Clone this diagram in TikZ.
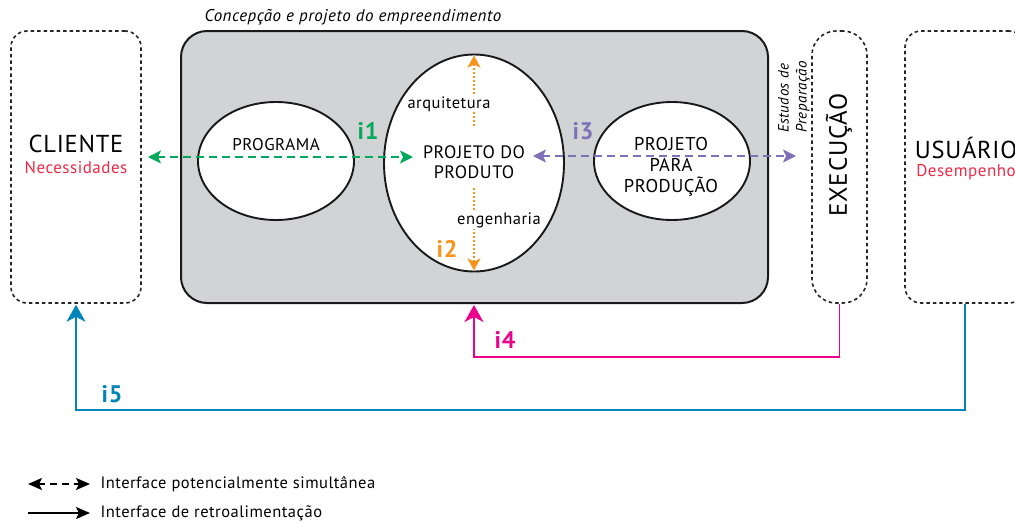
\documentclass[tikz,border=0pt]{standalone}
\usepackage{fontspec}
\setmainfont{PT Sans}[LetterSpace=3]
\usetikzlibrary{arrows.meta,shapes.geometric,positioning}
\definecolor{caixa}{HTML}{D1D3D4}
\definecolor{vermelho}{HTML}{EE2A47}
\definecolor{verde}{HTML}{00A95C}
\definecolor{laranja}{HTML}{F7941D}
\definecolor{roxo}{HTML}{7F71B7}
\definecolor{magenta}{HTML}{EC008C}
\definecolor{azul}{HTML}{0085B8}
\tikzset{
  pontilhada/.style={draw=black!85, line width=1.6pt, dash pattern=on 3.5pt off 3pt, rounded corners=16pt, minimum height=272pt, inner sep=0pt},
  oval/.style={ellipse, draw=black!90, fill=white, line width=1.9pt, inner sep=0pt},
  simult/.style={line width=1.8pt, dash pattern=on 8pt off 5pt, {Stealth[length=13pt,width=13pt,inset=3pt]}-{Stealth[length=13pt,width=13pt,inset=3pt]}},
  retro/.style={line width=1.8pt, -{Stealth[length=17pt,width=19pt,inset=5pt]}},
  rotulo/.style={font=\bfseries\fontsize{24}{26}\selectfont},
  grande/.style={font=\fontsize{24.5}{26}\selectfont},
  texto/.style={font=\fontsize{16.5}{20}\selectfont, align=center}
}
\begin{document}
\begin{tikzpicture}[x=1pt, y=-1pt]
  \useasboundingbox (0,0) rectangle (1015,522);

  \node[pontilhada, minimum width=130pt] (cliente) at (76,167) {};
  \node[grande] (clientetxt) at (76,144) {CLIENTE};
  \node[texto, font=\fontsize{17}{20}\selectfont, text=vermelho] (necess) at (76,168) {Necessidades};

  \node[fill=caixa, draw=black!90, line width=2pt, rounded corners=26pt, minimum width=587pt, minimum height=272pt] (empreend) at (474.5,167) {};
  \node[font=\itshape\fontsize{17}{19}\selectfont] (titulo) at (353,17) {Concepção e projeto do empreendimento};

  \node[oval, minimum width=156pt, minimum height=118pt] (programa) at (276,161) {};
  \node[texto, font=\fontsize{17}{20}\selectfont] at (276,145) {PROGRAMA};
  \node[oval, minimum width=180pt, minimum height=217pt] (produto) at (474,163) {};
  \node[oval, minimum width=156pt, minimum height=118pt] (producao) at (672,161) {};
  \node[texto, font=\fontsize{18.5}{21}\selectfont] at (671,167) {PROJETO\\PARA\\PRODUÇÃO};

  \node[pontilhada, minimum width=55pt, rounded corners=24pt] (execucao) at (839.5,167) {};
  \node[grande, font=\fontsize{25}{27}\selectfont, rotate=90] at (839,155) {EXECUÇÃO};
  \node[font=\itshape\fontsize{15}{18}\selectfont, rotate=90, align=left] (estudos) at (794,97) {Estudos de\\Preparação};

  \node[pontilhada, minimum width=120pt] (usuario) at (965,167) {};
  \node[grande] at (966,148) {USUÁRIO};
  \node[texto, font=\fontsize{17}{20}\selectfont, text=vermelho] at (966,172) {Desempenho};

  \coordinate (a1) at (148,157);
  \coordinate (b1) at (413,157);
  \draw[simult, verde] (a1) -- (b1);
  \node[rotulo, text=verde] at (368,131) {i1};

  \coordinate (a3) at (533,156);
  \coordinate (b3) at (796,156);
  \draw[simult, roxo] (a3) -- (b3);
  \node[rotulo, text=roxo] at (583,131) {i3};

  \draw[laranja, line width=1.8pt, dash pattern=on 2pt off 2pt, -{Stealth[length=12pt,width=13pt,inset=3pt]}] (474,126) -- ([yshift=-2pt]produto.north);
  \draw[laranja, line width=1.8pt, dash pattern=on 2pt off 2pt, -{Stealth[length=12pt,width=13pt,inset=3pt]}] (474,188) -- ([yshift=2pt]produto.south);
  \node[texto, fill=white, inner sep=1pt] at (449,104) {arquitetura};
  \node[texto, fill=white, inner sep=1pt] at (499,220) {engenharia};
  \node[texto, font=\fontsize{18}{20}\selectfont] at (474,162) {PROJETO DO\\PRODUTO};
  \node[rotulo, text=laranja] at (447,249) {i2};

  \draw[retro, magenta] (execucao.south) -- (execucao.south |- 0,357) -| ([yshift=-1pt]empreend.south -| produto.south);
  \node[rotulo, text=magenta] at (505,340) {i4};

  \draw[retro, azul] (usuario.south) -- (usuario.south |- 0,410) -| ([yshift=-1pt]cliente.south);
  \node[rotulo, text=azul] at (112,394) {i5};

  \node[texto, anchor=west] (leg1) at (97,484) {Interface potencialmente simultânea};
  \node[texto, anchor=west] (leg2) at (97,513) {Interface de retroalimentação};
  \coordinate (l1) at (28,484);
  \coordinate (l2) at (28,513);
  \draw[black, line width=1.8pt, dash pattern=on 7pt off 5pt, shorten >=7pt, {Stealth[length=14pt,width=12pt,inset=3pt]}-{Stealth[length=14pt,width=12pt,inset=3pt]}] (l1) -- (leg1.west);
  \draw[black, line width=1.6pt, shorten >=7pt, -{Stealth[length=14pt,width=12pt,inset=3pt]}] (l2) -- (leg2.west);
\end{tikzpicture}
\end{document}
